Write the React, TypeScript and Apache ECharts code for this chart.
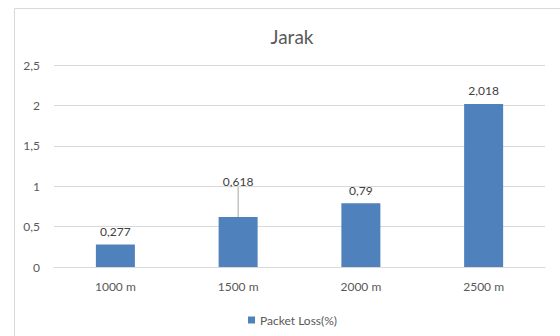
import React, { useEffect, useRef } from "react";
import * as echarts from "echarts";

const categories = ["1000 m", "1500 m", "2000 m", "2500 m"];
const packetLoss = [0.277, 0.618, 0.79, 2.018];
const seriesName = "Packet Loss(%)";
const titleText = "Jarak";
const raisedLabelIndex = 1;

const fmt = (v: number) => String(v).replace(".", ",");

export default function App() {
  const ref = useRef<HTMLDivElement>(null);
  useEffect(() => {
    document.body.style.margin = "0";
    const chart = echarts.init(ref.current!, null, { renderer: "svg" });
    const font = "Lato, 'Open Sans', sans-serif";
    chart.setOption({
      animation: false,
      backgroundColor: "#ffffff",
      textStyle: { fontFamily: font },
      title: {
        text: titleText,
        left: 287,
        textAlign: "center",
        top: 22,
        textStyle: { fontFamily: font, fontSize: 19, fontWeight: "normal", color: "#595959" },
      },
      graphic: [
        {
          type: "polyline",
          shape: { points: [[14.5, 340], [14.5, 8.5], [570, 8.5]] },
          style: { stroke: "#d9d9d9", fill: "none", lineWidth: 1 },
          silent: true,
        },
      ],
      legend: {
        left: 243,
        top: 309,
        icon: "rect",
        itemWidth: 7,
        itemHeight: 7,
        itemGap: 5,
        textStyle: { fontFamily: font, fontSize: 12, color: "#595959" },
        data: [seriesName],
      },
      grid: { left: 54, right: 15, top: 65, bottom: 69, containLabel: false },
      xAxis: {
        type: "category",
        data: categories,
        axisLine: { show: true, lineStyle: { color: "#d9d9d9" } },
        axisTick: { show: false },
        axisLabel: { color: "#595959", fontSize: 12, fontFamily: font, margin: 13 },
      },
      yAxis: {
        type: "value",
        min: 0,
        max: 2.5,
        interval: 0.5,
        axisLine: { show: false },
        axisTick: { show: false },
        splitLine: { lineStyle: { color: "#d9d9d9" } },
        axisLabel: {
          color: "#595959",
          fontSize: 12,
          fontFamily: font,
          margin: 14,
          formatter: (v: number) => fmt(v),
        },
      },
      series: [
        {
          type: "bar",
          name: seriesName,
          data: packetLoss.map((v, i) => ({
            value: v,
            labelLine: { show: i === raisedLabelIndex },
          })),
          barWidth: 39,
          itemStyle: { color: "#4f81bd" },
          label: {
            show: true,
            position: "top",
            distance: 7,
            color: "#404040",
            fontSize: 12,
            fontFamily: font,
            formatter: (p: any) => fmt(p.value),
          },
          labelLine: { show: false, lineStyle: { color: "#a6a6a6", width: 1 } },
          labelLayout: (p: any) => (p.dataIndex === raisedLabelIndex ? { dy: -23 } : {}),
        },
      ],
    });
    return () => chart.dispose();
  }, []);
  return <div ref={ref} style={{ position: "fixed", left: 0, top: 0, width: 560, height: 336 }} />;
}
